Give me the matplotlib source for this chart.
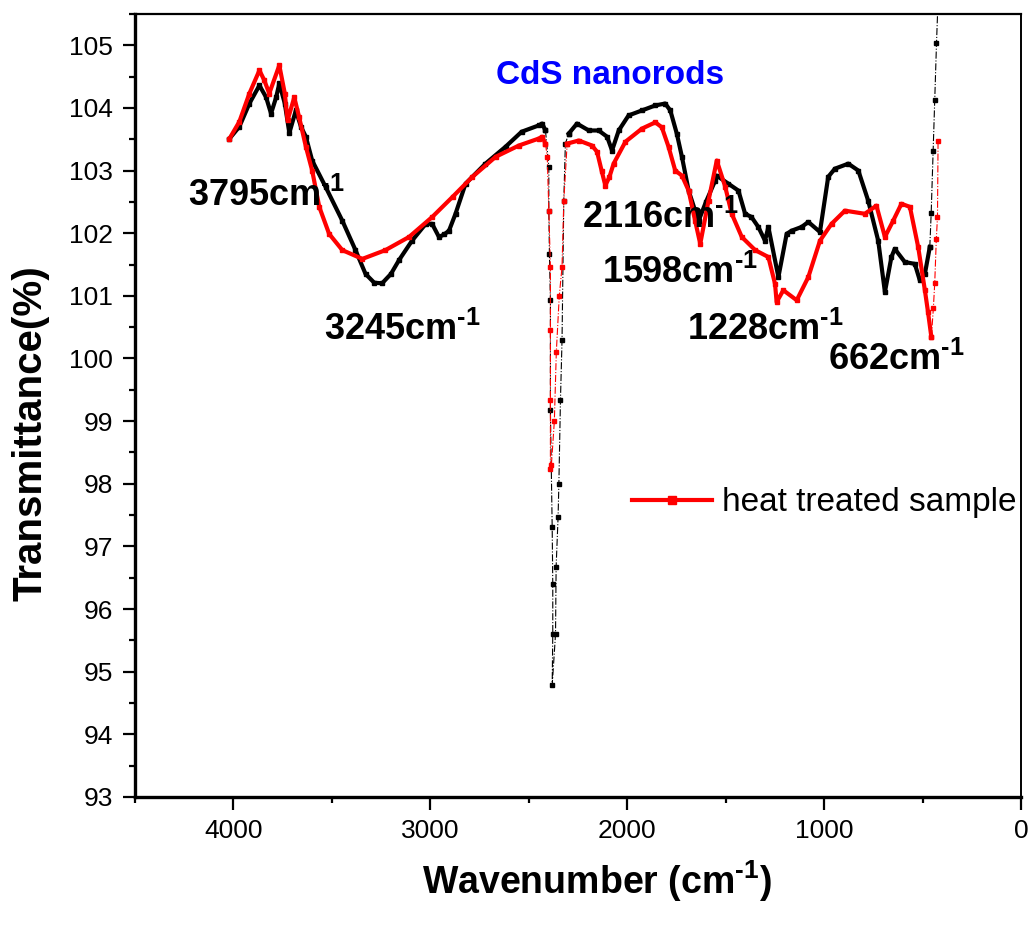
import matplotlib
matplotlib.use('Agg')
import matplotlib.pyplot as plt
from matplotlib.ticker import MultipleLocator

plt.rcParams['font.family'] = ['Liberation Sans', 'DejaVu Sans']
plt.rcParams['mathtext.fontset'] = 'custom'
plt.rcParams['mathtext.rm'] = 'Liberation Sans:bold'
plt.rcParams['mathtext.bf'] = 'Liberation Sans:bold'

# as-prepared sample (black), smooth parts
black_x = [4020, 3970, 3919, 3868, 3834, 3809, 3783, 3767, 3739, 3716, 3683, 3657, 3632, 3600,
           3532, 3447, 3380, 3329, 3285, 3245, 3200, 3159, 3093, 3023, 2991, 2956, 2930, 2905,
           2872, 2821, 2720, 2618, 2536, 2450, 2432, 2415]
black_y = [103.51, 103.70, 104.07, 104.36, 104.17, 103.91, 104.17, 104.39, 104.07, 103.60, 103.96,
           103.70, 103.54, 103.16, 102.74, 102.20, 101.73, 101.35, 101.21, 101.20, 101.35, 101.57,
           101.88, 102.15, 102.15, 101.94, 101.98, 102.04, 102.31, 102.79, 103.11, 103.38, 103.62,
           103.72, 103.75, 103.64]
black_x2 = [2297, 2255, 2195, 2145, 2102, 2077, 2043, 1993, 1925, 1857, 1807, 1781, 1748, 1722,
            1688, 1655, 1637, 1600, 1553, 1546, 1486, 1435, 1401, 1369, 1334, 1300, 1283, 1232,
            1190, 1165, 1114, 1080, 1021, 979, 945, 877, 826, 776, 725, 691, 658, 641, 590, 539,
            514, 488, 463]
black_y2 = [103.59, 103.75, 103.64, 103.64, 103.54, 103.32, 103.64, 103.88, 103.96, 104.04, 104.07,
            103.96, 103.59, 103.22, 102.68, 102.36, 102.20, 102.50, 102.84, 102.92, 102.79, 102.68,
            102.31, 102.26, 102.10, 101.88, 102.10, 101.30, 101.99, 102.04, 102.10, 102.18, 102.02,
            102.90, 103.03, 103.11, 103.00, 102.52, 101.88, 101.06, 101.62, 101.75, 101.54, 101.51,
            101.25, 101.35, 101.78]
# steep parts (sparse points)
black_dip_x = [2415, 2398, 2398, 2395, 2390, 2390, 2381, 2378, 2378, 2381, 2364, 2361, 2351, 2347,
               2339, 2331, 2322, 2314, 2297]
black_dip_y = [103.64, 103.06, 102.36, 101.67, 100.93, 99.17, 97.31, 96.40, 95.60, 94.78, 95.60,
               96.67, 97.47, 98.00, 99.33, 100.29, 102.52, 103.43, 103.59]
black_end_x = [463, 456, 446, 438, 429, 418]
black_end_y = [101.78, 102.32, 103.32, 104.12, 105.03, 106.0]

# heat treated sample (red)
red_x = [4020, 3970, 3919, 3868, 3843, 3818, 3767, 3739, 3725, 3691, 3666, 3632, 3600, 3564,
         3514, 3447, 3345, 3228, 3108, 2990, 2887, 2786, 2668, 2550, 2450, 2432, 2415]
red_y = [103.51, 103.78, 104.23, 104.60, 104.44, 104.23, 104.68, 104.23, 103.80, 104.17, 103.85,
         103.38, 103.00, 102.42, 101.99, 101.73, 101.59, 101.73, 101.94, 102.26, 102.58, 102.90,
         103.22, 103.40, 103.51, 103.54, 103.43]
red_x2 = [2305, 2246, 2179, 2153, 2130, 2111, 2090, 2069, 2009, 1925, 1857, 1824, 1790, 1756, 1722,
          1688, 1655, 1629, 1587, 1545, 1502, 1469, 1418, 1350, 1283, 1249, 1241, 1207, 1139, 1080,
          1021, 962, 894, 793, 734, 691, 649, 607, 564, 522, 488, 472, 455]
red_y2 = [103.43, 103.48, 103.40, 103.30, 103.00, 102.76, 102.90, 103.11, 103.46, 103.67, 103.77,
          103.69, 103.38, 103.00, 102.92, 102.68, 102.20, 101.83, 102.52, 103.16, 102.74, 102.31,
          101.94, 101.73, 101.62, 101.19, 100.90, 101.09, 100.93, 101.30, 101.88, 102.15, 102.36,
          102.31, 102.44, 101.94, 102.20, 102.47, 102.42, 101.78, 101.09, 100.74, 100.34]
red_dip_x = [2415, 2406, 2398, 2390, 2390, 2390, 2390, 2385, 2370, 2360, 2345, 2331, 2322, 2305]
red_dip_y = [103.43, 103.22, 102.36, 101.46, 100.45, 99.33, 98.24, 98.30, 99.00, 100.10, 101.00,
             101.46, 102.52, 103.43]
red_end_x = [455, 445, 438, 430, 424, 421]
red_end_y = [100.34, 100.80, 101.20, 101.90, 102.26, 103.48]

peak_labels = ['3795', '3245', '2116', '1598', '1228', '662']
peak_lx = [4233, 3539, 2231, 2129, 1698, 978]
peak_ly = [102.43, 100.30, 102.08, 101.20, 100.29, 99.82]

fig = plt.figure(figsize=(10.32, 9.25), dpi=100)
ax = fig.add_axes([0.1308, 0.1384, 0.8585, 0.8465])

# black
ax.plot(black_x, black_y, color='black', lw=3.0, marker='s', ms=3.5)
ax.plot(black_x2, black_y2, color='black', lw=3.0, marker='s', ms=3.5)
ax.plot(black_dip_x, black_dip_y, color='black', lw=0.8, ls='-.', marker='s', ms=3.5)
ax.plot(black_end_x, black_end_y, color='black', lw=0.8, ls='-.', marker='s', ms=3.5)
# red
ax.plot(red_x, red_y, color='red', lw=3.0, marker='s', ms=3.5, label='heat treated sample')
ax.plot(red_x2, red_y2, color='red', lw=3.0, marker='s', ms=3.5)
ax.plot(red_dip_x, red_dip_y, color='red', lw=0.8, ls='-.', marker='s', ms=3.5)
ax.plot(red_end_x, red_end_y, color='red', lw=0.8, ls='-.', marker='s', ms=3.5)

ax.set_xlim(4500, 0)
ax.set_ylim(93, 105.5)
ax.xaxis.set_major_locator(MultipleLocator(1000))
ax.xaxis.set_minor_locator(MultipleLocator(500))
ax.yaxis.set_major_locator(MultipleLocator(1))
ax.yaxis.set_minor_locator(MultipleLocator(0.5))
ax.tick_params(which='major', direction='out', length=9, width=1.6, labelsize=19, pad=7)
ax.tick_params(which='minor', direction='out', length=4, width=1.6)
ax.tick_params(top=False, right=False, which='both')
ax.spines['left'].set_linewidth(2.4)
ax.spines['bottom'].set_linewidth(2.4)
ax.spines['top'].set_linewidth(1.6)
ax.spines['right'].set_linewidth(1.4)

ax.set_xlabel(r'Wavenumber (cm$^{\text{-1}}$)', fontsize=27, fontweight='bold')
ax.set_ylabel('Transmittance(%)', fontsize=29, fontweight='bold')
ax.xaxis.set_label_coords(0.521, -0.079)
ax.yaxis.set_label_coords(-0.096, 0.465)

ax.text(2089, 104.52, 'CdS nanorods', color='#0000ff', fontsize=24, fontweight='bold',
        ha='center', va='center')

for lab, lx, ly in zip(peak_labels, peak_lx, peak_ly):
    ax.text(lx, ly, lab + r'cm$^{\text{-1}}$', fontsize=26, fontweight='bold',
            ha='left', va='baseline')

ax.legend(loc='center left', bbox_to_anchor=(0.561, 0.3755), frameon=False, fontsize=24,
          handlelength=2.4, handletextpad=0.3, borderpad=0, borderaxespad=0, numpoints=1,
          markerscale=1.5)

fig.savefig('out.png', dpi=100)
